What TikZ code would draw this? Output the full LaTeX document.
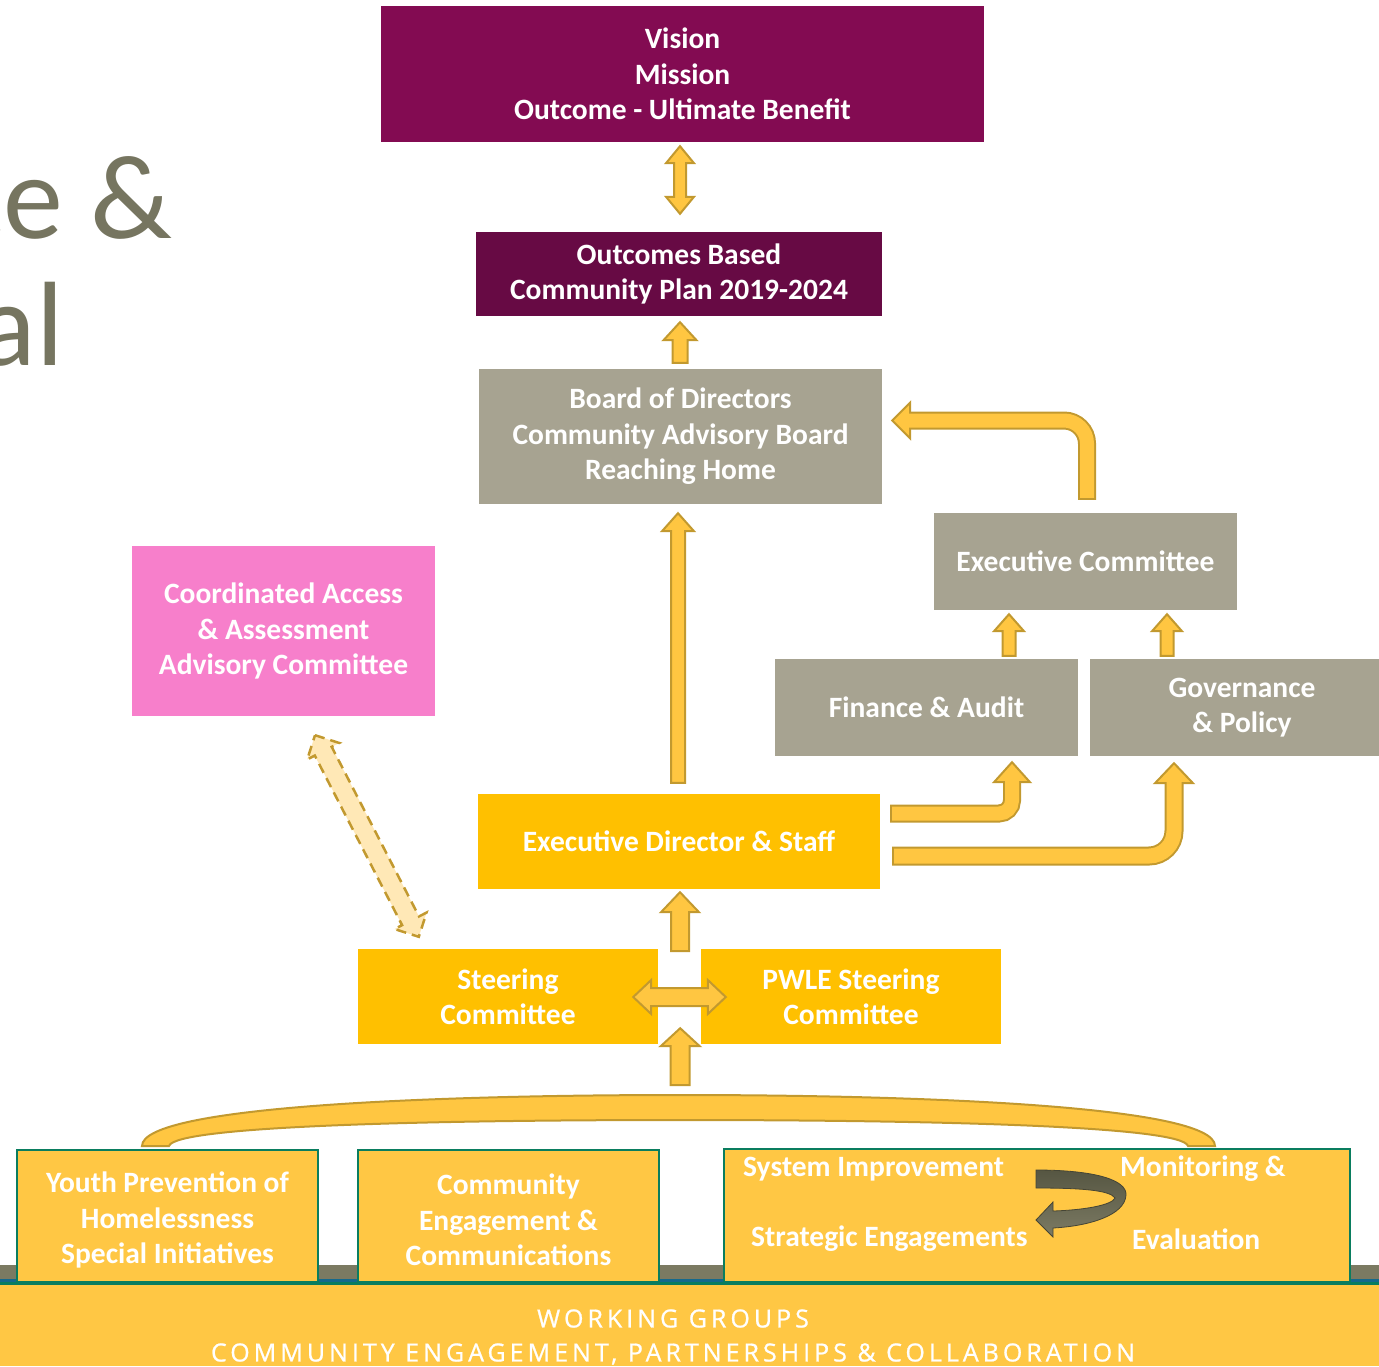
\documentclass[tikz,border=0pt]{standalone}
\usepackage{fontspec}
\setmainfont{Carlito}
\newfontfamily\bandfont[LetterSpace=16, FakeBold=0.8]{Open Sans}
\usetikzlibrary{calc}
\definecolor{visionpurple}{RGB}{131,11,82}
\definecolor{planpurple}{RGB}{103,10,68}
\definecolor{boardgray}{RGB}{167,163,145}
\definecolor{staffgold}{RGB}{255,192,0}
\definecolor{groupgold}{RGB}{255,199,68}
\definecolor{arrowfill}{RGB}{255,198,65}
\definecolor{arrowline}{RGB}{194,153,47}
\definecolor{accesspink}{RGB}{247,127,203}
\definecolor{paleamber}{RGB}{255,232,182}
\definecolor{groupteal}{RGB}{10,125,95}
\definecolor{bandblue}{RGB}{20,105,140}
\definecolor{bandgray}{RGB}{123,122,98}
\definecolor{titlegray}{RGB}{118,117,96}
\definecolor{loopdark}{RGB}{86,86,66}
\definecolor{looplight}{RGB}{124,123,100}

\newcommand{\boxfont}{\fontsize{29.5}{35.5}\selectfont\bfseries}
\tikzset{
  orgbox/.style={rectangle, inner sep=0pt, align=center, text=white, font=\boxfont},
  groupbox/.style={orgbox, fill=groupgold, draw=groupteal, line width=1.5pt},
  blockarrow/.style={fill=arrowfill, draw=arrowline, line width=2pt},
}
% straight block arrow: tail, tip, shaft half width, head half width, head length
\newcommand{\blkarrow}[6][]{%
  \coordinate (ba) at ($(#3)!#6!(#2)$);
  \draw[blockarrow, #1] ($(#2)!#4!90:(#3)$) -- ($(ba)!#4!-90:(#2)$) -- ($(ba)!#5!-90:(#2)$) -- (#3)
    -- ($(ba)!#5!90:(#2)$) -- ($(ba)!#4!90:(#2)$) -- ($(#2)!#4!-90:(#3)$) -- cycle;}
% block arrow with two heads
\newcommand{\blkdarrow}[6][]{%
  \coordinate (ba) at ($(#3)!#6!(#2)$);
  \coordinate (bb) at ($(#2)!#6!(#3)$);
  \draw[blockarrow, #1] (#2) -- ($(bb)!#5!90:(#3)$) -- ($(bb)!#4!90:(#3)$) -- ($(ba)!#4!-90:(#2)$)
    -- ($(ba)!#5!-90:(#2)$) -- (#3) -- ($(ba)!#5!90:(#2)$) -- ($(ba)!#4!90:(#2)$)
    -- ($(bb)!#4!-90:(#3)$) -- ($(bb)!#5!-90:(#3)$) -- cycle;}
% bent block arrow: tail, corner, tip, radius, shaft half width, head half width, head length
\newcommand{\bentarrow}[7]{%
  \coordinate (hb) at ($(#3)!#7!(#2)$);
  \draw[arrowline, line width={2*#5+4pt}, rounded corners=#4] ($(#1)!-2pt!(#2)$) -- (#2) -- (hb);
  \filldraw[blockarrow] ($(hb)!#6!90:(#3)$) -- (#3) -- ($(hb)!#6!-90:(#3)$) -- cycle;
  \draw[arrowfill, line width={2*#5}, rounded corners=#4] (#1) -- (#2) -- ($(hb)!3pt!(#3)$);}

\begin{document}
\begin{tikzpicture}[x=1pt, y=-1pt]
  \useasboundingbox (0,0) rectangle (1379,1366);
  \clip (0,0) rectangle (1379,1366);

  % title fragment cut by the left edge
  \node[anchor=base east, inner sep=0pt, text=titlegray, font=\fontsize{120}{120}\selectfont] (titleA) at (172,238) {ce \&};
  \node[anchor=base east, inner sep=0pt, text=titlegray, font=\fontsize{120}{120}\selectfont] (titleB) at (64,365) {al};

  % bottom band
  \fill[bandgray] (0,1265) rectangle (1379,1280);
  \fill[bandblue] (0,1279) rectangle (1379,1282);
  \fill[groupteal] (0,1282) rectangle (1379,1285);
  \fill[groupgold] (0,1285) rectangle (1379,1366);
  \node[text=white, font=\bandfont\fontsize{25}{34}\selectfont, align=center] (band) at (673,1337)
    {WORKING GROUPS\\COMMUNITY ENGAGEMENT, PARTNERSHIPS \& COLLABORATION};

  % boxes
  \node[orgbox, fill=visionpurple, minimum width=603, minimum height=136] (vision) at (682.5,74)
    {Vision\\Mission\\Outcome - Ultimate Benefit};
  \node[orgbox, fill=planpurple, minimum width=406, minimum height=84] (plan) at (679,274)
    {Outcomes Based\\Community Plan 2019-2024};
  \node[orgbox, fill=boardgray, minimum width=403, minimum height=135] (board) at (680.5,436.5)
    {Board of Directors\\Community Advisory Board\\Reaching Home};
  \node[orgbox, fill=boardgray, minimum width=303, minimum height=97] (execcom) at (1085.5,561.5)
    {Executive Committee};
  \node[orgbox, fill=boardgray, minimum width=303, minimum height=97] (finance) at (926.5,707.5)
    {Finance \& Audit};
  \node[orgbox, fill=boardgray, minimum width=304, minimum height=97] (governance) at (1242,707.5)
    {Governance\\\& Policy};
  \node[orgbox, fill=accesspink, minimum width=303, minimum height=170] (access) at (283.5,631)
    {Coordinated Access\\\& Assessment\\Advisory Committee};
  \node[orgbox, fill=staffgold, minimum width=402, minimum height=95] (staff) at (679,841.5)
    {Executive Director \& Staff};
  \node[orgbox, fill=staffgold, minimum width=300, minimum height=95] (steering) at (508,996.5)
    {Steering\\Committee};
  \node[orgbox, fill=staffgold, minimum width=300, minimum height=95] (pwle) at (851,996.5)
    {PWLE Steering\\Committee};

  % working groups
  \node[groupbox, minimum width=301, minimum height=132] (youth) at (167.5,1216) {};
  \node[orgbox] (youthtext) at ($(youth)+(0,4)$) {Youth Prevention of\\Homelessness\\Special Initiatives};
  \node[groupbox, minimum width=301, minimum height=132] (commeng) at (508.5,1216) {};
  \node[orgbox] (commtext) at ($(commeng)+(0,4)$) {Community\\Engagement \&\\Communications};
  \node[groupbox, minimum width=626, minimum height=133] (system) at (1037,1215.5) {};
  \node[anchor=west, inner sep=0pt, text=white, font=\boxfont] (sysimp) at (743,1169) {System Improvement};
  \node[anchor=west, inner sep=0pt, text=white, font=\boxfont] (monitor) at (1120,1169) {Monitoring \&};
  \node[anchor=west, inner sep=0pt, text=white, font=\boxfont] (strateg) at (751,1239) {Strategic Engagements};
  \node[anchor=west, inner sep=0pt, text=white, font=\boxfont] (evalu) at (1132,1239) {Evaluation};

  % loop arrow inside the system box
  \shadedraw[top color=loopdark, bottom color=looplight, draw=loopdark!80!black, line width=0.8pt]
    (1036,1170) .. controls (1095,1170) and (1127,1180) .. (1126,1195)
    .. controls (1125,1215) and (1090,1226) .. (1053,1228)
    -- (1053,1237) -- (1036,1220) -- (1053,1202) -- (1053,1211)
    .. controls (1085,1210) and (1112,1205) .. (1115,1198)
    .. controls (1110,1190) and (1080,1188) .. (1036,1188) -- cycle;

  % arc over the working groups
  \filldraw[blockarrow]
    (142,1146) .. controls (142,1105) and (450,1095) .. (680,1095)
    .. controls (910,1095) and (1215,1105) .. (1215,1146)
    -- (1188,1146) .. controls (1182,1125) and (910,1120) .. (680,1120)
    .. controls (450,1120) and (175,1125) .. (169,1146) -- cycle;

  % straight arrows
  \coordinate (v1) at ($(vision.south)+(-2.5,4)$);
  \coordinate (v2) at ($(plan.north)+(1,-18)$);
  \blkdarrow{v1}{v2}{6pt}{14pt}{17pt}
  \coordinate (p1) at ($(board.north)+(-0.5,-6)$);
  \coordinate (p2) at ($(plan.south)+(1,6)$);
  \blkarrow{p1}{p2}{7.5pt}{16.5pt}{18pt}
  \coordinate (s1) at ($(staff.north)+(-1,-11)$);
  \coordinate (s2) at ($(board.south)+(-2.5,9)$);
  \blkarrow{s1}{s2}{7pt}{16pt}{18pt}
  \coordinate (f1) at ($(finance.north)+(82.5,-3)$);
  \coordinate (f2) at ($(execcom.south)+(-76.5,4)$);
  \blkarrow{f1}{f2}{6.5pt}{15pt}{17pt}
  \coordinate (g1) at ($(governance.north)+(-75,-3)$);
  \coordinate (g2) at ($(execcom.south)+(81.5,4)$);
  \blkarrow{g1}{g2}{6.5pt}{15pt}{17pt}
  \coordinate (q1) at ($(staff.south)+(1,62)$);
  \coordinate (q2) at ($(staff.south)+(1,3)$);
  \blkarrow{q1}{q2}{9pt}{19pt}{20pt}
  \coordinate (r1) at ($(steering.east)+(-25,0.5)$);
  \coordinate (r2) at ($(pwle.west)+(25,0.5)$);
  \blkdarrow{r1}{r2}{9pt}{17pt}{18pt}
  \coordinate (u1) at ($(steering.south east)+(22,41)$);
  \coordinate (u2) at ($(steering.south east)+(22,-16)$);
  \blkarrow{u1}{u2}{9.5pt}{19.5pt}{18pt}

  % dashed link to coordinated access
  \coordinate (d1) at ($(access.south)+(31.5,19)$);
  \coordinate (d2) at ($(steering.north west)+(61,-12)$);
  \blkdarrow[fill=paleamber, dashed, dash pattern=on 10pt off 6pt, line width=2.5pt]{d1}{d2}{9.5pt}{18pt}{18pt}

  % bent arrows
  \coordinate (e1) at ($(execcom.north)+(1.5,-15)$);
  \coordinate (e3) at ($(board.east)+(10,-16)$);
  \coordinate (e2) at (e1 |- e3);
  \bentarrow{e1}{e2}{e3}{23pt}{7pt}{18pt}{18pt}
  \coordinate (h1) at ($(staff.east)+(12,-28)$);
  \coordinate (h3) at ($(finance.south)+(85.5,6)$);
  \coordinate (h2) at (h1 -| h3);
  \bentarrow{h1}{h2}{h3}{13pt}{7pt}{18pt}{20pt}
  \coordinate (k1) at ($(staff.east)+(14,14.5)$);
  \coordinate (k3) at ($(governance.south)+(-68,7)$);
  \coordinate (k2) at (k1 -| k3);
  \bentarrow{k1}{k2}{k3}{25pt}{7.5pt}{19pt}{20pt}
\end{tikzpicture}
\end{document}
